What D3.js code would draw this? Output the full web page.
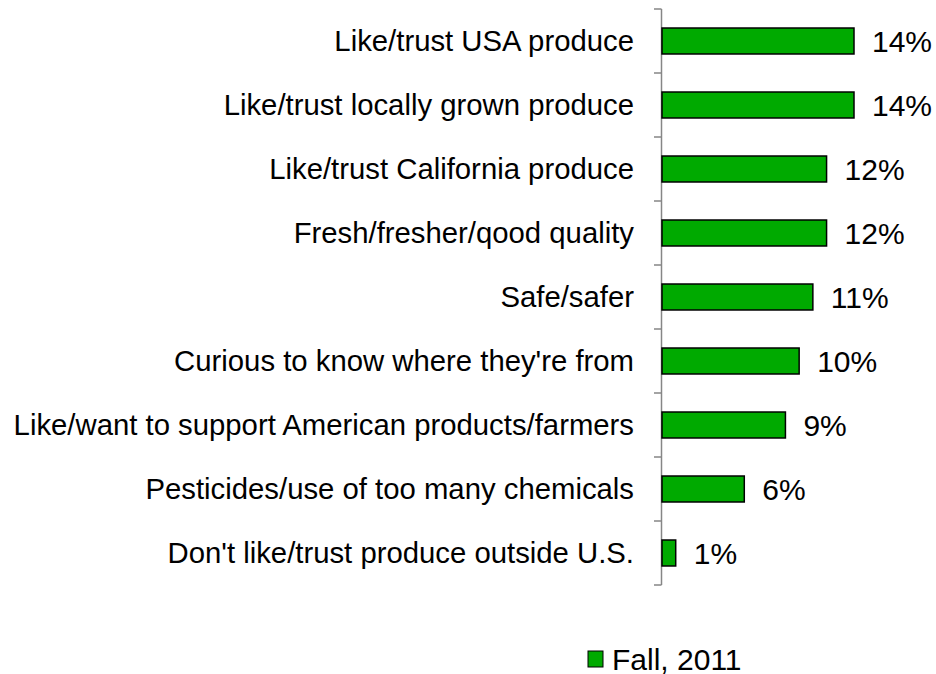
<!DOCTYPE html>
<html>
<head>
<meta charset="utf-8">
<script src="https://cdn.jsdelivr.net/npm/d3@7"></script>
<style>
  body { margin: 0; background: #fff; }
  svg text { font-family: "Liberation Sans", Arial, sans-serif; fill: #000; }
</style>
</head>
<body>
<svg id="chart"></svg>
<script>
const width = 936;
const height = 674;
const margin = { top: 9, right: 0, bottom: 89, left: 662 };

const categories = [
  "Like/trust USA produce",
  "Like/trust locally grown produce",
  "Like/trust California produce",
  "Fresh/fresher/qood quality",
  "Safe/safer",
  "Curious to know where they're from",
  "Like/want to support American products/farmers",
  "Pesticides/use of too many chemicals",
  "Don't like/trust produce outside U.S."
];
const values = [14, 14, 12, 12, 11, 10, 9, 6, 1];
const seriesName = "Fall, 2011";

const data = categories.map((c, i) => ({ cat: c, val: values[i] }));

const svg = d3.select("#chart")
  .attr("width", width)
  .attr("height", height);

const g = svg.append("g")
  .attr("transform", "translate(" + margin.left + "," + margin.top + ")");

const xScale = d3.scaleLinear()
  .domain([0, 14])
  .range([0, 192]);

const yScale = d3.scaleBand()
  .domain(categories)
  .range([0, height - margin.top - margin.bottom])
  .paddingInner(0.594)
  .paddingOuter(0.297);

// axis line with boundary ticks
const bandStep = yScale.step();
const axisG = g.append("g").attr("id", "y-axis");
axisG.append("line")
  .attr("x1", -0.5).attr("x2", -0.5)
  .attr("y1", 0).attr("y2", bandStep * categories.length)
  .attr("stroke", "#868686")
  .attr("stroke-width", 1.5);
axisG.selectAll(".tick")
  .data(d3.range(categories.length + 1))
  .enter()
  .append("line")
  .attr("x1", -8).attr("x2", -0.5)
  .attr("y1", d => d * bandStep)
  .attr("y2", d => d * bandStep)
  .attr("stroke", "#868686")
  .attr("stroke-width", 1.5);

// category labels
g.selectAll(".cat")
  .data(data)
  .enter()
  .append("text")
  .attr("class", "cat")
  .attr("x", -28)
  .attr("y", d => yScale(d.cat) + yScale.bandwidth() / 2)
  .attr("dy", "0.35em")
  .attr("text-anchor", "end")
  .attr("font-size", "29.3px")
  .text(d => d.cat);

// bars
g.selectAll(".bar")
  .data(data)
  .enter()
  .append("rect")
  .attr("class", "bar")
  .attr("x", xScale(0))
  .attr("y", d => yScale(d.cat))
  .attr("width", d => xScale(d.val))
  .attr("height", yScale.bandwidth())
  .attr("fill", "#00AA00")
  .attr("stroke", "#000")
  .attr("stroke-width", 1.5);

// value labels
g.selectAll(".val")
  .data(data)
  .enter()
  .append("text")
  .attr("class", "val")
  .attr("x", d => xScale(d.val) + 18)
  .attr("y", d => yScale(d.cat) + yScale.bandwidth() / 2)
  .attr("dy", "0.35em")
  .attr("font-size", "30px")
  .text(d => d.val + "%");

// legend
const legendG = svg.append("g")
  .attr("transform", "translate(588,651)");
legendG.append("rect")
  .attr("width", 15)
  .attr("height", 16)
  .attr("fill", "#00AA00")
  .attr("stroke", "#000")
  .attr("stroke-width", 1);
legendG.append("text")
  .attr("x", 24)
  .attr("y", 8)
  .attr("dy", "0.35em")
  .attr("font-size", "30px")
  .text(seriesName);
</script>
</body>
</html>
